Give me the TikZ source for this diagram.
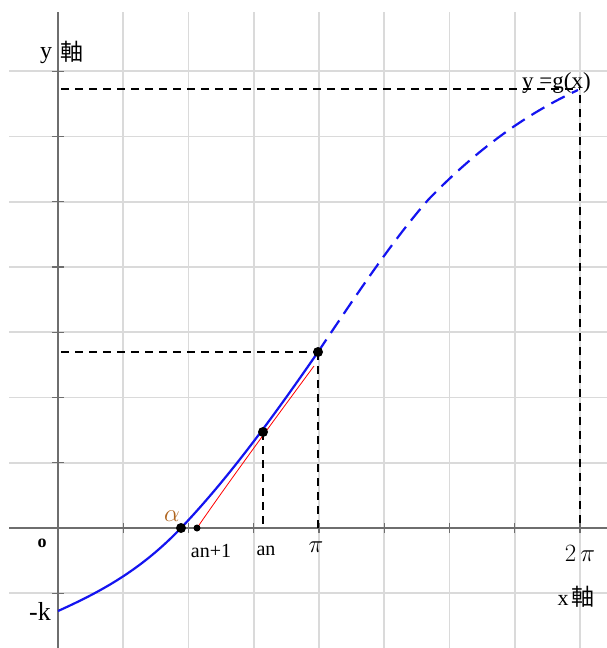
\documentclass[tikz,border=0pt]{standalone}
\usepackage{fontspec}
\setmainfont{Liberation Serif}
\newfontfamily\cjk{Noto Sans CJK JP}
\definecolor{gridc}{RGB}{218,218,218}
\definecolor{axisc}{RGB}{110,110,110}
\definecolor{alphac}{RGB}{175,100,30}
\definecolor{curvec}{RGB}{20,20,240}
\begin{document}
\begin{tikzpicture}[x=1pt,y=-1pt,
  gridline/.style={gridc,line width=1.8},
  axisline/.style={axisc,line width=1.8},
  tickline/.style={axisc,line width=1.2},
  helper/.style={black,line width=1.3,dash pattern=on 8 off 6},
  curvesolid/.style={curvec,line width=2.2},
  curvedash/.style={curvec,line width=2.2,dash pattern=on 15 off 8},
  dotbig/.style={circle,fill=black,inner sep=0pt,minimum size=10pt},
  dotsmall/.style={circle,fill=black,inner sep=0pt,minimum size=7pt},
  lab/.style={inner sep=0pt,font=\fontsize{23}{23}\selectfont}]
\useasboundingbox (0,0) rectangle (607,648);
\fill[white] (0,0) rectangle (607,648);
% grid
\foreach \i in {1,...,8} {
  \draw[gridline] ({58+65.25*\i},12) -- ({58+65.25*\i},648);
}
\foreach \j in {1,...,7} {
  \draw[gridline] (9,{528-65.25*\j}) -- (607,{528-65.25*\j});
}
\draw[gridline] (9,593.25) -- (607,593.25);
% axes
\coordinate (xl) at (9,528);
\coordinate (xr) at (607,528);
\coordinate (yt) at (58,12);
\coordinate (yb) at (58,648);
\draw[axisline] (xl) -- (xr);
\draw[axisline] (yt) -- (yb);
\foreach \i in {1,...,8} {
  \draw[tickline] ({58+65.25*\i},523) -- ({58+65.25*\i},533);
}
\foreach \j in {1,...,7} {
  \draw[tickline] (52,{528-65.25*\j}) -- (64,{528-65.25*\j});
}
\draw[tickline] (52,593.25) -- (64,593.25);
% key points
\coordinate (top) at (580,89);
\coordinate (topy) at (61,89);
\coordinate (topx) at (580,528);
\coordinate (pi) at (318,352);
\coordinate (piy) at (61,352);
\coordinate (pix) at (318,528);
\coordinate (an) at (263,432);
\coordinate (anx) at (263,528);
\coordinate (alp) at (181,528);
\coordinate (an1) at (197,528);
\coordinate (mk) at (58,611);
\coordinate (mid) at (428,200);
\coordinate (gend) at (578,90);
% helper dashed lines
\draw[helper] (topy) -- (top);
\draw[helper] (top) ++(0,6) -- (topx);
\draw[helper] (piy) -- (pi);
\draw[helper] (pi) -- (pix);
\draw[helper] (an) -- (anx);
% red line
\draw[red,line width=0.8] (an1) .. controls (230,480) and (280,412) .. (314,366);
% curve
\draw[curvesolid] (mk) .. controls (99,592.5) and (140,571) .. (alp)
  .. controls (227,479.7) and (272,418.7) .. (pi);
\draw[curvedash] (pi) .. controls (355,297) and (391,242.5) .. (mid)
  .. controls (478,148) and (528,113) .. (gend);
% dots
\node[dotbig] (dpi) at (pi) {};
\node[dotbig] (dan) at (an) {};
\node[dotbig] (dalp) at (alp) {};
\node[dotsmall] (dan1) at (an1) {};
% labels
\node[inner sep=0pt,font=\fontsize{24}{24}\selectfont,anchor=base] (ylab) at (46,58) {y};
\node[inner sep=0pt,font=\cjk\fontsize{23}{23}\selectfont] (yjiku) at (72,52) {軸};
\node[lab,anchor=base west] (glab) at (522,88) {y =g(x)};
\node[inner sep=0pt,font=\fontsize{24}{24}\selectfont,text=alphac] (alab) at (172,516) {$\alpha$};
\node[inner sep=0pt,font=\bfseries\fontsize{18}{18}\selectfont] (olab) at (42,543) {o};
\node[inner sep=0pt,font=\fontsize{20}{20}\selectfont] (an1lab) at (211,551) {an+1};
\node[inner sep=0pt,font=\fontsize{20}{20}\selectfont] (anlab) at (266,551) {an};
\node[inner sep=0pt,font=\fontsize{24}{24}\selectfont] (pilab) at (316,547) {$\pi$};
\node[inner sep=0pt,font=\fontsize{24}{24}\selectfont] (tpilab) at (580,553) {$2\,\pi$};
\node[inner sep=0pt,font=\fontsize{22}{22}\selectfont,anchor=base] (xlab) at (563,605) {x};
\node[inner sep=0pt,font=\cjk\fontsize{23}{23}\selectfont] (xjiku) at (583,597) {軸};
\node[inner sep=0pt,font=\fontsize{26}{26}\selectfont] (klab) at (40,611) {-k};
\end{tikzpicture}
\end{document}
